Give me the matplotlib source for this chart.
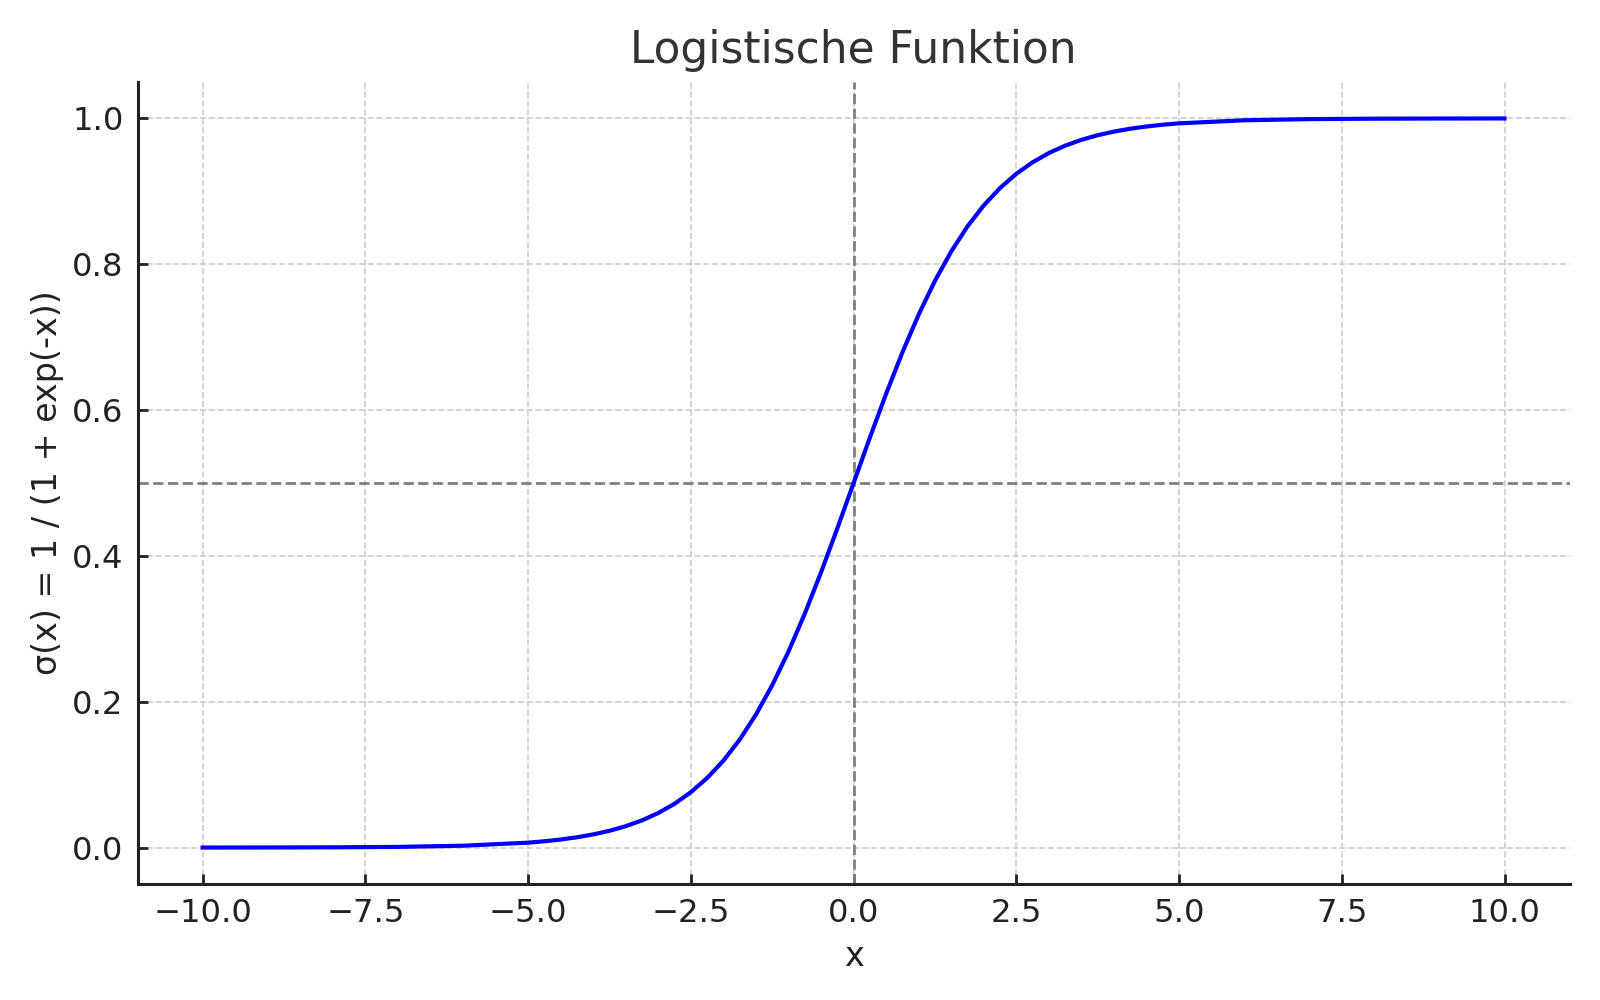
import matplotlib.pyplot as plt

# x samples and sigma(x) values
x_vals = [-10, -9, -8, -7, -6, -5, -4.75, -4.5, -4.25, -4, -3.75, -3.5, -3.25, -3,
          -2.75, -2.5, -2.25, -2, -1.75, -1.5, -1.25, -1, -0.75, -0.5, -0.25, 0,
          0.25, 0.5, 0.75, 1, 1.25, 1.5, 1.75, 2, 2.25, 2.5, 2.75, 3, 3.25, 3.5,
          3.75, 4, 4.25, 4.5, 4.75, 5, 6, 7, 8, 9, 10]
y_vals = [0.0000, 0.0001, 0.0003, 0.0009, 0.0025, 0.0067, 0.0086, 0.0110, 0.0141,
          0.0180, 0.0230, 0.0293, 0.0373, 0.0474, 0.0601, 0.0759, 0.0954, 0.1192,
          0.1480, 0.1824, 0.2227, 0.2689, 0.3208, 0.3775, 0.4378, 0.5000,
          0.5622, 0.6225, 0.6792, 0.7311, 0.7773, 0.8176, 0.8520, 0.8808, 0.9046,
          0.9241, 0.9399, 0.9526, 0.9627, 0.9707, 0.9770, 0.9820, 0.9859, 0.9890,
          0.9914, 0.9933, 0.9975, 0.9991, 0.9997, 0.9999, 1.0000]

text_col = '#222222'

fig = plt.figure(figsize=(8, 5), dpi=200)
ax = fig.add_axes([0.086, 0.116, 0.895, 0.802])

ax.plot(x_vals, y_vals, color='blue', linewidth=1.5, zorder=3)
ax.axhline(0.5, color='gray', linestyle='--', linewidth=1.0, zorder=2)
ax.axvline(0, color='gray', linestyle='--', linewidth=1.0, zorder=2)

ax.set_title('Logistische Funktion', fontsize=15.8, color='#333333', pad=7)
ax.set_xlabel('x', fontsize=12, color=text_col, labelpad=4)
ax.set_ylabel('σ(x) = 1 / (1 + exp(-x))', fontsize=12, color=text_col, labelpad=3)

ax.grid(True, linestyle='--', color='#cccccc', linewidth=0.6)
ax.set_axisbelow(True)
for side in ['top', 'right']:
    ax.spines[side].set_visible(False)
for side in ['left', 'bottom']:
    ax.spines[side].set_linewidth(1.1)
    ax.spines[side].set_color(text_col)
ax.tick_params(direction='in', length=3.5, width=1.0, colors=text_col,
               labelsize=11.6, pad=5)

plt.savefig('out.png', dpi=200)
